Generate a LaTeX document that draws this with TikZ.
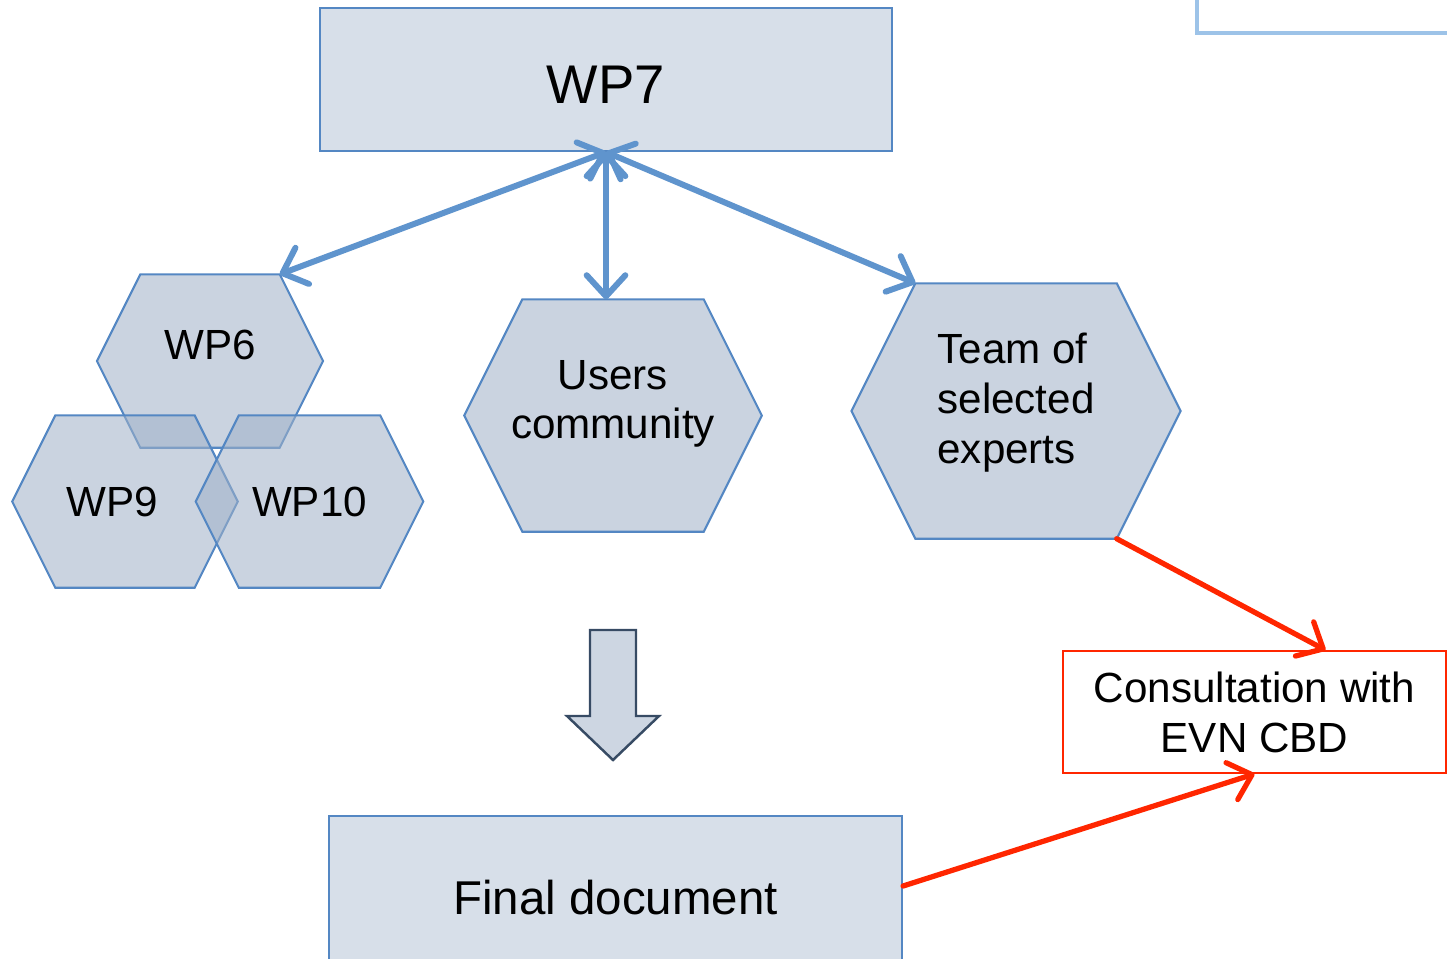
\documentclass[tikz,border=0pt]{standalone}
\usepackage{fontspec}
\setmainfont{Liberation Sans}
\usepackage{tikz}
\usetikzlibrary{arrows.meta, positioning, calc, backgrounds}

\definecolor{boxfill}{RGB}{215,223,233}
\definecolor{boxline}{RGB}{84,135,195}
\definecolor{hexfill}{RGB}{160,177,200}
\definecolor{linkblue}{RGB}{95,148,205}
\definecolor{evnred}{RGB}{255,38,0}
\definecolor{arrowline}{RGB}{55,75,100}
\definecolor{arrowfill}{RGB}{205,214,226}
\definecolor{paleblue}{RGB}{157,195,232}

\begin{document}
\begin{tikzpicture}[>={Straight Barb[length=6pt,width=11pt,round]},
  wpbox/.style={draw=boxline, fill=boxfill, line width=0.6pt},
  hexa/.style={inner sep=0pt, align=center, font=\fontsize{12}{14.2}\selectfont},
  hexline/.style={draw=boxline, line width=0.6pt, fill=hexfill, fill opacity=0.56},
  link/.style={<->, draw=linkblue, line width=1.7pt, line cap=round},
  redlink/.style={->, draw=evnred, line width=1.5pt, line cap=round}]
  \useasboundingbox (0,0) rectangle (14.47,-9.58);
  \clip (0,0) rectangle (14.47,-9.58);

  \node[draw=paleblue, line width=1pt, fill=white, minimum width=3cm, minimum height=1cm, anchor=south west] (corner) at (11.95,-0.35) {};

  \node[wpbox, minimum width=5.72cm, minimum height=1.43cm, text height=0.48cm, font=\fontsize{15.5}{18}\selectfont] (wp7) at (6.06,-0.795) {WP7};

  % work packages and groups
  \node[hexa, minimum width=1.38cm, minimum height=1.72cm, text depth=0.32cm] (wp6) at (2.10,-3.61) {WP6};
  \node[hexa, minimum width=1.38cm, minimum height=1.71cm] (wp9) at (1.25,-5.015) {\hspace*{-0.26cm}WP9};
  \node[hexa, minimum width=1.40cm, minimum height=1.71cm] (wp10) at (3.095,-5.015) {WP10};
  \node[hexa, minimum width=1.80cm, minimum height=2.31cm, text depth=0.32cm] (users) at (6.13,-4.155) {Users\\\makebox[1.7cm]{community}};
  \node[hexa, align=left, minimum width=2.00cm, minimum height=2.54cm, text depth=0.26cm] (team) at (10.16,-4.11) {Team of\\selected\\experts};

  \begin{scope}[on background layer]
    \foreach \h in {wp6,wp9,wp10,users,team}
      \draw[hexline] let \p1=(\h.north west), \p2=(\h.south east), \n1={(\y1-\y2)/4} in
        (\x1,\y1) -- (\x2,\y1) -- (\x2+\n1,{(\y1+\y2)/2}) -- (\x2,\y2) -- (\x1,\y2) -- (\x1-\n1,{(\y1+\y2)/2}) -- cycle;
  \end{scope}

  \node[draw=evnred, line width=0.5pt, fill=white, align=center, minimum width=3.83cm, minimum height=1.22cm, font=\fontsize{12}{14.2}\selectfont] (consult) at (12.545,-7.12) {Consultation with\\EVN CBD};
  \node[wpbox, minimum width=5.73cm, minimum height=1.64cm, font=\fontsize{13.5}{16}\selectfont] (final) at (6.155,-8.98) {Final document};

  % block arrow down to the final document
  \draw[line width=0.7pt, draw=arrowline, fill=arrowfill, line join=miter]
    (5.90,-6.30) -- (6.36,-6.30) -- (6.36,-7.16) -- (6.59,-7.16) -- (6.13,-7.60) -- (5.67,-7.16) -- (5.90,-7.16) -- cycle;

  \draw[link] (wp7.south) -- (wp6.north east);
  \draw[link] (wp7.south) -- (wp7.south |- users.north);
  \draw[link] (wp7.south) -- (team.north west);
  \draw[redlink] (team.south east) -- ($(consult.north)+(0.71,0)$);
  \draw[redlink] ($(final.east)+(0,0.12)$) -- (consult.south);
\end{tikzpicture}
\end{document}
